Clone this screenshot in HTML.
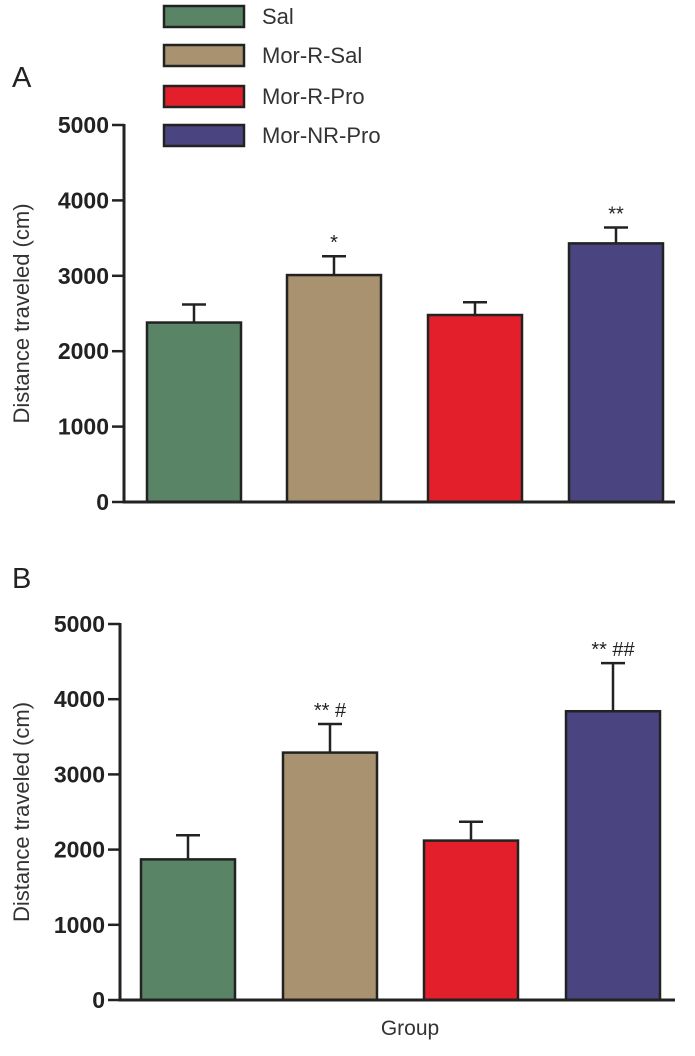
<!DOCTYPE html>
<html><head><meta charset="utf-8"><style>
body{margin:0;background:#fff;width:695px;height:1051px;overflow:hidden}
svg{font-family:"Liberation Sans",sans-serif}
</style></head><body>
<svg id="c" width="695" height="1051"></svg>
<script>
const groups=["Sal","Mor-R-Sal","Mor-R-Pro","Mor-NR-Pro"];
const colors=["#5a8466","#a89270","#e21f2a","#4a4580"];
const meansA=[2380,3010,2480,3430];
const errA=[240,250,170,210];
const sigA=["","*","","**"];
const meansB=[1870,3290,2120,3840];
const errB=[320,380,250,640];
const sigB=["","** #","","** ##"];
const ticks=[0,1000,2000,3000,4000,5000];
const NS="http://www.w3.org/2000/svg";
const svg=document.getElementById('c');
function mk(t,a,p){const e=document.createElementNS(NS,t);for(const k in a)e.setAttribute(k,a[k]);(p||svg).appendChild(e);return e;}
const ly=[16,55,96,135];
groups.forEach((g,i)=>{
 const r=mk('rect',{x:164,y:ly[i]-10,width:80,height:21,fill:colors[i],stroke:'#222','stroke-width':2.5});
 
 
 const t=mk('text',{x:262,y:ly[i]+8,'font-size':22,fill:'#333'});t.textContent=g;
 
 
});
function panel(name,ax,y0,y5,xs,means,errs,sigs,label,ly2){
 const g=mk('g',{});
 
 
 const Y=v=>y0+(y5-y0)*v/5000;
 const bw=94;
 means.forEach((m,i)=>{
  const x=xs[i];
  const ln=mk('line',{x1:x+bw/2,x2:x+bw/2,y1:Y(m),y2:Y(m+errs[i]),stroke:'#222','stroke-width':2.5},g);
  
  
  const cap=mk('line',{x1:x+bw/2-12,x2:x+bw/2+12,y1:Y(m+errs[i]),y2:Y(m+errs[i]),stroke:'#222','stroke-width':2.5},g);
  
  
  const r=mk('rect',{x:x,y:Y(m),width:bw,height:Y(0)-Y(m),fill:colors[i],stroke:'#222','stroke-width':2.5},g);
  
  
  if(sigs[i]){const t=mk('text',{x:x+bw/2,y:Y(m+errs[i])-7,'font-size':20,'text-anchor':'middle',fill:'#222'},g);t.textContent=sigs[i];
   
   }
 });
 const a=mk('line',{x1:ax,x2:ax,y1:y5-1,y2:y0+1.5,stroke:'#222','stroke-width':3},g);
 
 const b=mk('line',{x1:ax,x2:675,y1:y0,y2:y0,stroke:'#222','stroke-width':3},g);
 
 ticks.forEach(v=>{
  mk('line',{x1:ax-12,x2:ax,y1:Y(v),y2:Y(v),stroke:'#222','stroke-width':2.5},g);
  const t=mk('text',{x:ax-15,y:Y(v)+8,'font-size':23,'font-weight':'bold','text-anchor':'end',fill:'#222'},g);t.textContent=v;
  
 });
 const yt=mk('text',{x:0,y:0,'font-size':22,'text-anchor':'middle',fill:'#333',transform:`translate(29,${(y0+y5)/2}) rotate(-90)`},g);
 yt.textContent='Distance traveled (cm)';
 
 const pl=mk('text',{x:12,y:ly2,'font-size':29,fill:'#222'},g);pl.textContent=label;
 
}
panel('a',124,502,125,[147,287,428,569],meansA,errA,sigA,'A',87);
panel('b',120,1000,624,[141,283,424,566],meansB,errB,sigB,'B',588);
const gt=mk('text',{x:410,y:1035,'font-size':21,'text-anchor':'middle',fill:'#333'});gt.textContent='Group';

</script>
</body></html>
